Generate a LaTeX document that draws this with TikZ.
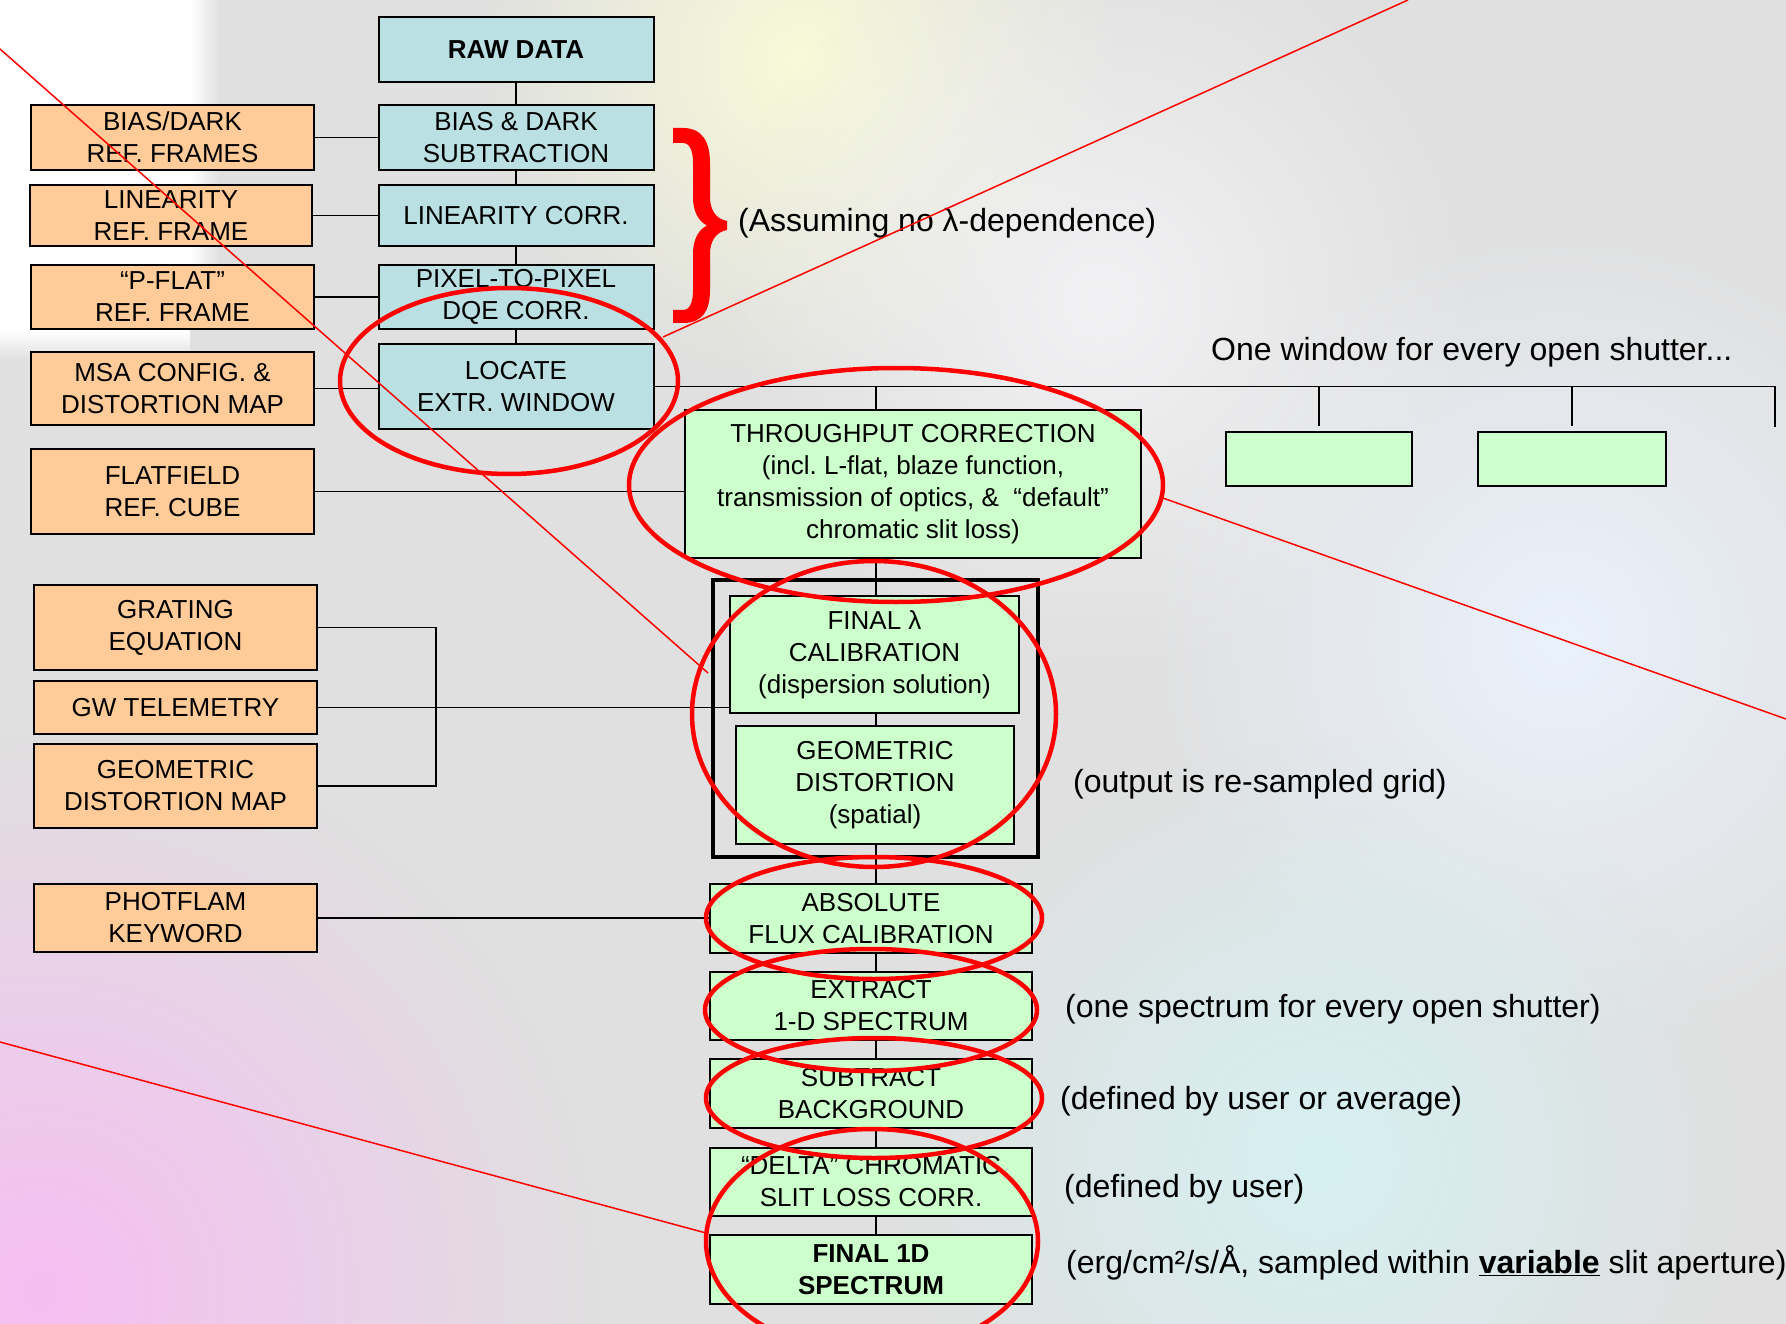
\documentclass[tikz,border=0pt]{standalone}
\usepackage{fontspec}
\setmainfont{Liberation Sans}
\usetikzlibrary{calc,fadings}
\definecolor{bluefill}{HTML}{BBE0E3}
\definecolor{orangefill}{HTML}{FFCC99}
\definecolor{greenfill}{HTML}{CCFFCC}
\definecolor{bggray}{HTML}{E0E0E0}
\definecolor{blobpink}{HTML}{F6BEF2}
\definecolor{blobyellow}{HTML}{F8FAD8}
\definecolor{blobblue}{HTML}{EAF2FC}
\definecolor{blobcyan}{HTML}{D6F0F2}
\definecolor{blobwhite}{HTML}{F2F2F4}
\tikzfading[name=blobfade, inner color=transparent!0, outer color=transparent!100]
\frenchspacing
\begin{document}
\begin{tikzpicture}[x=1pt,y=-1pt,
  box/.style={draw=black, line width=2pt, inner sep=0pt, align=center, font=\fontsize{26}{32}\selectfont},
  bluebox/.style={box, fill=bluefill},
  orbox/.style={box, fill=orangefill},
  grbox/.style={box, fill=greenfill},
  note/.style={anchor=west, inner sep=0pt, font=\fontsize{32}{38}\selectfont},
  link/.style={draw=black, line width=1.8pt},
  redring/.style={draw=red, line width=4.5pt},
  redline/.style={draw=red, line width=1.5pt}]
% background
\fill[bggray] (0,0) rectangle (1786,1324);
\useasboundingbox (0,0) rectangle (1786,1324);
\fill[blobpink, path fading=blobfade] (40,1290) circle (560);
\fill[blobyellow, path fading=blobfade] (800,60) circle (320);
\fill[blobblue, path fading=blobfade] (1560,640) circle (420);
\fill[blobcyan, path fading=blobfade] (1320,1160) circle (420);
\fill[blobwhite, path fading=blobfade] (1100,300) circle (380);
\fill[white] (0,0) rectangle (190,330);
\shade[left color=white, right color=bggray] (190,0) rectangle (220,330);
\shade[top color=white, bottom color=bggray] (0,330) rectangle (190,360);

% blue column
\node[bluebox, minimum width=275pt, minimum height=65pt] (raw) at (516,49.5) {\textbf{RAW DATA}};
\node[bluebox, minimum width=275pt, minimum height=65pt] (bias) at (516,137.5) {BIAS \& DARK\\SUBTRACTION};
\node[bluebox, minimum width=275pt, minimum height=61pt] (lin) at (516,215.5) {LINEARITY CORR.};
\node[bluebox, minimum width=275pt, minimum height=64pt] (pix) at (516,297) {PIXEL-TO-PIXEL\\DQE CORR.};
\node[bluebox, minimum width=275pt, minimum height=85pt] (loc) at (516,386.5) {LOCATE\\EXTR. WINDOW};

% orange column
\node[orbox, minimum width=283pt, minimum height=65pt] (bdref) at (172.5,137.5) {BIAS/DARK\\REF. FRAMES};
\node[orbox, minimum width=282pt, minimum height=61pt] (linref) at (171,215.5) {LINEARITY\\REF. FRAME};
\node[orbox, minimum width=283pt, minimum height=64pt] (pflat) at (172.5,297) {“P-FLAT”\\REF. FRAME};
\node[orbox, minimum width=283pt, minimum height=73pt] (msa) at (172.5,388.5) {MSA CONFIG. \&\\DISTORTION MAP};
\node[orbox, minimum width=283pt, minimum height=85pt] (flat) at (172.5,491.5) {FLATFIELD\\REF. CUBE};
\node[orbox, minimum width=283pt, minimum height=85pt] (grat) at (175.5,627.5) {GRATING\\EQUATION};
\node[orbox, minimum width=283pt, minimum height=53pt] (gw) at (175.5,707.5) {GW TELEMETRY};
\node[orbox, minimum width=283pt, minimum height=84pt] (geo) at (175.5,786) {GEOMETRIC\\DISTORTION MAP};
\node[orbox, minimum width=283pt, minimum height=68pt] (phot) at (175.5,918) {PHOTFLAM\\KEYWORD};

% green column
\node[grbox, minimum width=456pt, minimum height=148pt] (tp) at (913,484) {THROUGHPUT CORRECTION\\(incl. L-flat, blaze function,\\transmission of optics, \&~ “default”\\chromatic slit loss)};
\node[grbox, minimum width=186pt, minimum height=54pt] (e1) at (1319,459) {};
\node[grbox, minimum width=188pt, minimum height=54pt] (e2) at (1572,459) {};
\node[draw=black, line width=4pt, minimum width=325pt, minimum height=277pt, inner sep=0pt] (frame) at (875.5,718.5) {};
\node[grbox, minimum width=289pt, minimum height=117pt] (fl) at (874.5,654.5) {FINAL λ\\CALIBRATION\\(dispersion solution)};
\node[grbox, minimum width=278pt, minimum height=118pt] (gd) at (875,785) {GEOMETRIC\\DISTORTION\\(spatial)};
\node[grbox, minimum width=322pt, minimum height=69pt] (abs) at (871,918.5) {ABSOLUTE\\FLUX CALIBRATION};
\node[grbox, minimum width=322pt, minimum height=68pt] (ext) at (871,1006) {EXTRACT\\1-D SPECTRUM};
\node[grbox, minimum width=322pt, minimum height=69pt] (sub) at (871,1093.5) {SUBTRACT\\BACKGROUND};
\node[grbox, minimum width=322pt, minimum height=68pt] (delta) at (871,1182) {“DELTA” CHROMATIC\\SLIT LOSS CORR.};
\node[grbox, minimum width=322pt, minimum height=69pt] (fin) at (871,1269.5) {\textbf{FINAL 1D}\\\textbf{SPECTRUM}};

% connectors
\coordinate (sp) at (876,0);
\coordinate (brk) at (436,0);
\coordinate (busR) at (1775,386.5);
\coordinate (busRend) at (1775,427);
\draw[link] (raw.south) -- (bias.north);
\draw[link] (bias.south) -- (lin.north);
\draw[link] (lin.south) -- (pix.north);
\draw[link] (pix.south) -- (loc.north);
\draw[link] (bdref.east) -- (bdref.east -| bias.west);
\draw[link] (linref.east) -- (linref.east -| lin.west);
\draw[link] (pflat.east) -- (pflat.east -| pix.west);
\draw[link] (msa.east) -- (msa.east -| loc.west);
\draw[link] (loc.east) -- (busR) -- (busRend);
\draw[link] (sp |- loc.east) -- (sp |- tp.north);
\draw[link] (e1.north |- loc.east) -- ($(e1.north)+(0,-5)$);
\draw[link] (e2.north |- loc.east) -- ($(e2.north)+(0,-5)$);
\draw[link] (flat.east) -- (flat.east -| tp.west);
\draw[link] (grat.east) -- (grat.east -| brk) -- (geo.east -| brk) -- (geo.east);
\draw[link] (gw.east) -- (gw.east -| fl.west);
\draw[link] (phot.east) -- (phot.east -| abs.west);
\draw[link] (tp.south -| sp) -- (fl.north -| sp);
\draw[link] (fl.south -| sp) -- (gd.north -| sp);
\draw[link] (gd.south -| sp) -- (abs.north -| sp);
\draw[link] (abs.south -| sp) -- (ext.north -| sp);
\draw[link] (ext.south -| sp) -- (sub.north -| sp);
\draw[link] (sub.south -| sp) -- (delta.north -| sp);
\draw[link] (delta.south -| sp) -- (fin.north -| sp);

% notes
\node[note] (assume) at (738,223) {(Assuming no λ-dependence)};
\node[note] (onewin) at (1211,352) {One window for every open shutter...};
\node[note] (outgrid) at (1073,784) {(output is re-sampled grid)};
\node[note] (onespec) at (1065,1009) {(one spectrum for every open shutter)};
\node[note] (defavg) at (1060,1101) {(defined by user or average)};
\node[note] (defuser) at (1064,1189) {(defined by user)};
\node[note] (erg) at (1066,1263) {(erg/cm²/s/Å, sampled within \textbf{\underline{variable}} slit aperture)};

% red annotations
\fill[red] (673,128) -- (683,128) .. controls (703,128) and (710,143) .. (710,163) -- (710,197) .. controls (710,210) and (716,219) .. (727,221) -- (727,230) .. controls (716,232) and (710,241) .. (710,254) -- (710,290) .. controls (710,310) and (703,323) .. (683,323) -- (673,323) -- (673,310) -- (683,310) .. controls (690,310) and (693,302) .. (693,290) -- (693,254) .. controls (693,240) and (698,230) .. (707,225.5) .. controls (698,221) and (693,211) .. (693,197) -- (693,163) .. controls (693,151) and (690,143) .. (683,143) -- (673,143) -- cycle;
\draw[redring] (509,381) ellipse [x radius=169, y radius=93];
\draw[redring] (896,485) ellipse [x radius=267, y radius=117];
\draw[redring] (874,714) ellipse [x radius=182, y radius=153];
\draw[redring] (874,918) ellipse [x radius=168, y radius=61];
\draw[redring] (871,1010) ellipse [x radius=166, y radius=61];
\draw[redring] (874,1098) ellipse [x radius=168, y radius=60];
\draw[redring] (872,1241) ellipse [x radius=166, y radius=112];
\coordinate (r1a) at (0,49);
\coordinate (r1b) at (708,673);
\coordinate (r2a) at (663,337);
\coordinate (r2b) at (1408,0);
\coordinate (r3a) at (1160,497);
\coordinate (r3b) at (1786,719);
\coordinate (r4a) at (0,1042);
\coordinate (r4b) at (706,1233);
\draw[redline] (r1a) -- (r1b);
\draw[redline] (r2a) -- (r2b);
\draw[redline] (r3a) -- (r3b);
\draw[redline] (r4a) -- (r4b);
\end{tikzpicture}
\end{document}
